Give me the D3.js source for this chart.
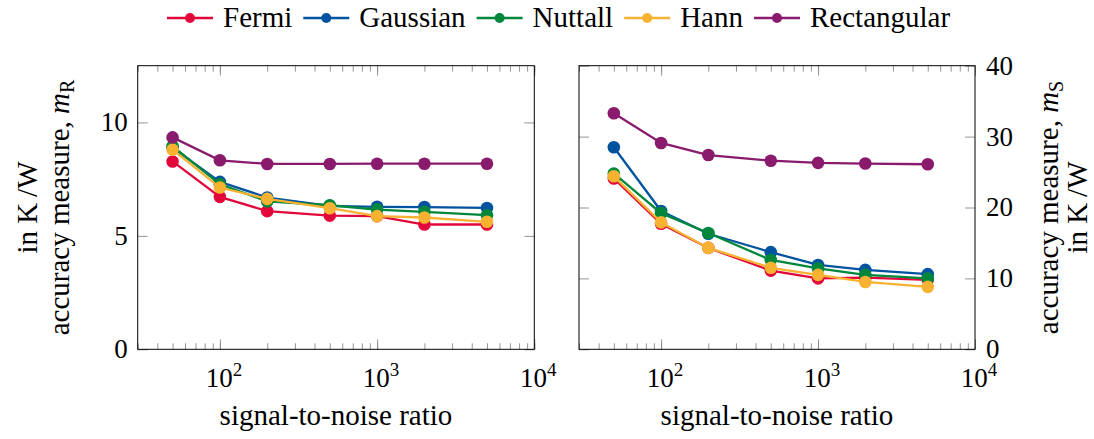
<!DOCTYPE html>
<html>
<head>
<meta charset="utf-8">
<script src="https://cdn.jsdelivr.net/npm/d3@7"></script>
<style>
  body { margin: 0; background: #fff; }
  svg { font-family: "Liberation Serif", "DejaVu Serif", serif; }
</style>
</head>
<body>
<svg width="1094" height="439"></svg>
<script>
// data
var snr = [50, 100, 200, 500, 1000, 2000, 5000];
var seriesNames = ['Fermi', 'Gaussian', 'Nuttall', 'Hann', 'Rectangular'];
var seriesColors = ['#e2073a', '#00539f', '#00873b', '#f8b232', '#891a6c'];

// accuracy measure m_R (left)
var fermiR = [8.28, 6.72, 6.09, 5.89, 5.87, 5.50, 5.50];
var gaussR = [8.89, 7.38, 6.69, 6.32, 6.28, 6.27, 6.23];
var nuttR  = [8.95, 7.27, 6.52, 6.35, 6.16, 6.06, 5.91];
var hannR  = [8.80, 7.13, 6.63, 6.22, 5.87, 5.81, 5.62];
var rectR  = [9.34, 8.33, 8.17, 8.17, 8.18, 8.18, 8.18];

// accuracy measure m_S (right)
var fermiS = [24.1, 17.7, 14.3, 11.1, 10.0, 10.1, 9.8];
var gaussS = [28.5, 19.5, 16.3, 13.7, 11.9, 11.2, 10.6];
var nuttS  = [24.8, 19.2, 16.4, 12.6, 11.4, 10.5, 10.0];
var hannS  = [24.4, 17.9, 14.3, 11.5, 10.5, 9.5, 8.8];
var rectS  = [33.3, 29.1, 27.4, 26.6, 26.3, 26.2, 26.1];

var xTicks = [100, 1000, 10000];
var yTicksR = [0, 5, 10];
var yTicksS = [0, 10, 20, 30, 40];

var svg = d3.select('svg');
var plotTop = 65.7, plotBottom = 349.3;

function drawPanel(x0, x1, yMax, yTicks, values, labelSide, sub) {
  var x = d3.scaleLog().domain([30, 1e4]).range([x0, x1]);
  var y = d3.scaleLinear().domain([0, yMax]).range([plotBottom, plotTop]);
  var g = svg.append('g');

  // minor + major x ticks, inward, top and bottom
  var minor = [];
  for (var e = 1; e <= 3; e++)
    for (var m = 1; m <= 9; m++) {
      var v = m * Math.pow(10, e);
      if (v >= 30 && v <= 1e4) minor.push(v);
    }
  minor.push(1e4);

  function noDomain(a) { a.select('.domain').remove(); }

  g.append('g').attr('transform', 'translate(0,' + plotBottom + ')')
    .call(d3.axisTop(x).tickValues(minor).tickSize(6).tickFormat(''))
    .call(noDomain);
  g.append('g').attr('transform', 'translate(0,' + plotBottom + ')')
    .call(d3.axisTop(x).tickValues(xTicks).tickSize(10).tickFormat(''))
    .call(noDomain);
  g.append('g').attr('transform', 'translate(0,' + plotTop + ')')
    .call(d3.axisBottom(x).tickValues(minor).tickSize(6).tickFormat(''))
    .call(noDomain);
  g.append('g').attr('transform', 'translate(0,' + plotTop + ')')
    .call(d3.axisBottom(x).tickValues(xTicks).tickSize(10).tickFormat(''))
    .call(noDomain);

  // y ticks both sides
  g.append('g').attr('transform', 'translate(' + x0 + ',0)')
    .call(d3.axisRight(y).tickValues(yTicks).tickSize(10).tickFormat(''))
    .call(noDomain);
  g.append('g').attr('transform', 'translate(' + x1 + ',0)')
    .call(d3.axisLeft(y).tickValues(yTicks).tickSize(10).tickFormat(''))
    .call(noDomain);
  g.selectAll('.tick line').attr('stroke', '#8a8a8a').attr('stroke-width', 0.9);

  // x tick labels 10^n
  xTicks.forEach(function(t) {
    var txt = g.append('text')
      .attr('x', x(t) + 4).attr('y', 387)
      .attr('text-anchor', 'middle')
      .style('font-size', '27px');
    txt.append('tspan').text('10');
    txt.append('tspan').attr('dy', -11).style('font-size', '19px')
      .text(String(Math.round(Math.log10(t))));
  });

  // y tick labels
  yTicks.forEach(function(t) {
    g.append('text')
      .attr('x', labelSide == 'left' ? x0 - 10 : x1 + 11)
      .attr('y', y(t)).attr('dy', '0.33em')
      .attr('text-anchor', labelSide == 'left' ? 'end' : 'start')
      .style('font-size', '27px')
      .text(t);
  });

  // series
  var line = d3.line()
    .x(function(d) { return x(d[0]); })
    .y(function(d) { return y(d[1]); });

  values.forEach(function(vals, i) {
    var pts = snr.map(function(s, k) { return [s, vals[k]]; });
    g.append('path')
      .datum(pts)
      .attr('d', line)
      .attr('fill', 'none')
      .attr('stroke', seriesColors[i])
      .attr('stroke-width', 2.3);
    g.selectAll(null)
      .data(pts)
      .enter()
      .append('circle')
      .attr('cx', function(d) { return x(d[0]); })
      .attr('cy', function(d) { return y(d[1]); })
      .attr('r', 6.3)
      .style('fill', seriesColors[i]);
  });

  // frame
  g.append('rect')
    .attr('x', x0).attr('y', plotTop)
    .attr('width', x1 - x0).attr('height', plotBottom - plotTop)
    .attr('fill', 'none').attr('stroke', '#000').attr('stroke-width', 1);

  // x title
  g.append('text')
    .attr('x', (x0 + x1) / 2).attr('y', 425)
    .attr('text-anchor', 'middle')
    .style('font-size', '29px')
    .text('signal-to-noise ratio');

  // y title, two lines read bottom to top
  var cy = (plotTop + plotBottom) / 2;
  var lines = labelSide == 'left' ? [37, 69] : [1058, 1087];
  var first = labelSide == 'left' ? 'unit' : 'measure';
  lines.forEach(function(bx, k) {
    var isMeasure = (k == 0) == (first == 'measure');
    var t = g.append('text')
      .attr('transform', 'translate(' + bx + ',' + cy + ') rotate(-90)')
      .attr('text-anchor', 'middle')
      .style('font-size', '29px');
    if (isMeasure) {
      t.append('tspan').text('accuracy measure, ');
      t.append('tspan').style('font-style', 'italic').text('m');
      t.append('tspan').attr('dy', 5).style('font-size', '20px').text(sub);
    } else {
      t.text('in K\u2009/W');
    }
  });
}

drawPanel(137.7, 534.3, 12.5, yTicksR, [fermiR, gaussR, nuttR, hannR, rectR], 'left', 'R');
drawPanel(579, 975, 40, yTicksS, [fermiS, gaussS, nuttS, hannS, rectS], 'right', 'S');

// legend
var lx = 167;
seriesNames.forEach(function(name, i) {
  var lg = svg.append('g');
  lg.append('line')
    .attr('x1', lx).attr('x2', lx + 46)
    .attr('y1', 18).attr('y2', 18)
    .attr('stroke', seriesColors[i]).attr('stroke-width', 2.3);
  lg.append('circle')
    .attr('cx', lx + 23).attr('cy', 18).attr('r', 5)
    .style('fill', seriesColors[i]);
  var t = lg.append('text')
    .attr('x', lx + 56).attr('y', 27)
    .style('font-size', '29px')
    .text(name);
  lx = lx + 56 + t.node().getComputedTextLength() + 11;
});
</script>
</body>
</html>
